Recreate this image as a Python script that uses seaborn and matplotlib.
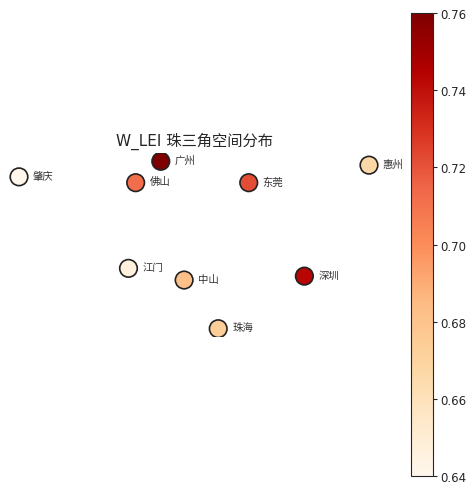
import numpy as np
import pandas as pd
import matplotlib
matplotlib.use("Agg")
import matplotlib.pyplot as plt
import seaborn as sns
from matplotlib.colors import Normalize
from matplotlib.cm import ScalarMappable

sns.set_style("white")
plt.rcParams["font.family"] = ["DejaVu Sans", "Noto Sans CJK SC"]

# Pearl River Delta cities: location and W_LEI value
cities = ["肇庆", "广州", "佛山", "东莞", "惠州", "江门", "中山", "深圳", "珠海"]
lon = [112.47, 113.26, 113.12, 113.75, 114.42, 113.08, 113.39, 114.06, 113.58]
lat = [23.05, 23.13, 23.02, 23.02, 23.11, 22.58, 22.52, 22.54, 22.27]
w_lei = [0.640, 0.760, 0.712, 0.722, 0.667, 0.646, 0.682, 0.743, 0.674]
cbar_ticks = [0.64, 0.66, 0.68, 0.70, 0.72, 0.74, 0.76]

df = pd.DataFrame({"city": cities, "lon": lon, "lat": lat, "W_LEI": w_lei})
vmin, vmax = min(w_lei), max(w_lei)

fig = plt.figure(figsize=(4.67, 4.89), dpi=100)
ax = fig.add_axes([1.5 / 467, 11 / 489, 385 / 467, 464 / 489])
cax = fig.add_axes([411 / 467, 12 / 489, 22 / 467, 463 / 489])

sns.scatterplot(
    data=df, x="lon", y="lat", hue="W_LEI", palette="OrRd",
    hue_norm=(vmin, vmax), s=160, edgecolor="#222222", linewidth=1.2,
    legend=False, ax=ax, zorder=3,
)
for _, r in df.iterrows():
    ax.annotate(r["city"], (r["lon"], r["lat"]), xytext=(10, 1),
                textcoords="offset points", fontsize=7.5, va="center",
                color="#333333")

ax.set_aspect(1 / np.cos(np.radians(df["lat"].mean())))
ax.margins(0.05)
ax.set_axis_off()
ax.set_title("W_LEI 珠三角空间分布", fontsize=11, pad=6)

sm = ScalarMappable(norm=Normalize(vmin=vmin, vmax=vmax), cmap="OrRd")
cb = fig.colorbar(sm, cax=cax)
cb.set_ticks(cbar_ticks)
cb.ax.tick_params(labelsize=8.5, length=3, pad=2)

fig.savefig("out.png", dpi=100)
